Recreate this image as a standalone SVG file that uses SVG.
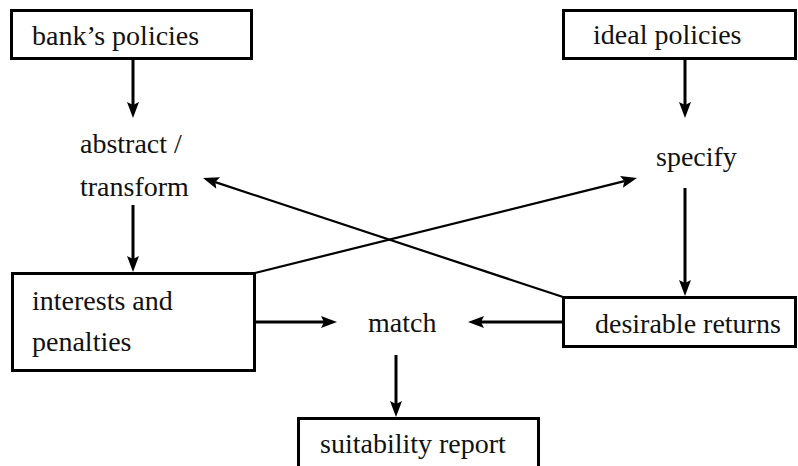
<svg xmlns="http://www.w3.org/2000/svg" width="798" height="466" viewBox="0 0 798 466">
  <rect width="798" height="466" fill="#fff"/>

  <!-- arrows: shafts end at the notch of each filled head -->
  <g id="connectors" stroke="#000" stroke-width="3" fill="none">
    <line x1="133" y1="60" x2="133" y2="105"/>
    <line x1="685" y1="59" x2="685" y2="105"/>
    <line x1="133" y1="205" x2="133" y2="259"/>
    <line x1="685" y1="188" x2="685" y2="283"/>
    <line x1="396" y1="355" x2="396" y2="404"/>
    <line x1="256" y1="322" x2="324" y2="322"/>
    <line x1="562" y1="322" x2="481" y2="322"/>
    <line x1="255" y1="273" x2="624.4" y2="181.1" stroke-width="2.2"/>
    <line x1="563" y1="297" x2="215.3" y2="182.1" stroke-width="2.2"/>
    <g fill="#000" stroke="none">
      <polygon points="133,118 127,102 133,105 139,102"/>
      <polygon points="685,118 679,102 685,105 691,102"/>
      <polygon points="133,272 127,256 133,259 139,256"/>
      <polygon points="685,296 679,280 685,283 691,280"/>
      <polygon points="396,417 390,401 396,404 402,401"/>
      <polygon points="337,322 321,316 324,322 321,328"/>
      <polygon points="468,322 484,316 481,322 484,328"/>
      <polygon points="637,178 622.9,187.7 624.4,181.1 620,176"/>
      <polygon points="203,178 220.1,177.3 215.3,182.1 216.3,188.7"/>
    </g>
  </g>

  <g font-family="Liberation Serif" font-size="28" fill="#111">
    <g id="bank-policies">
      <rect x="11.5" y="10.5" width="240" height="48" fill="#fff" stroke="#000" stroke-width="3"/>
      <text x="32" y="45">bank’s policies</text>
    </g>

    <g id="ideal-policies">
      <rect x="563.5" y="10.5" width="232" height="48" fill="#fff" stroke="#000" stroke-width="3"/>
      <text x="593" y="44">ideal policies</text>
    </g>

    <g id="abstract-transform">
      <text x="80" y="153">abstract /</text>
      <text x="80" y="196">transform</text>
    </g>

    <g id="specify">
      <text x="656" y="166">specify</text>
    </g>

    <g id="interests-penalties">
      <rect x="12.5" y="273.5" width="242" height="97" fill="#fff" stroke="#000" stroke-width="3"/>
      <text x="32" y="310">interests and</text>
      <text x="32" y="351">penalties</text>
    </g>

    <g id="match">
      <text x="368" y="332">match</text>
    </g>

    <g id="desirable-returns">
      <rect x="563.5" y="297.5" width="232" height="49" fill="#fff" stroke="#000" stroke-width="3"/>
      <text x="595" y="333">desirable returns</text>
    </g>

    <g id="suitability-report">
      <rect x="298.5" y="418.5" width="240" height="70" fill="#fff" stroke="#000" stroke-width="3"/>
      <text x="320" y="453">suitability report</text>
    </g>
  </g>
</svg>
